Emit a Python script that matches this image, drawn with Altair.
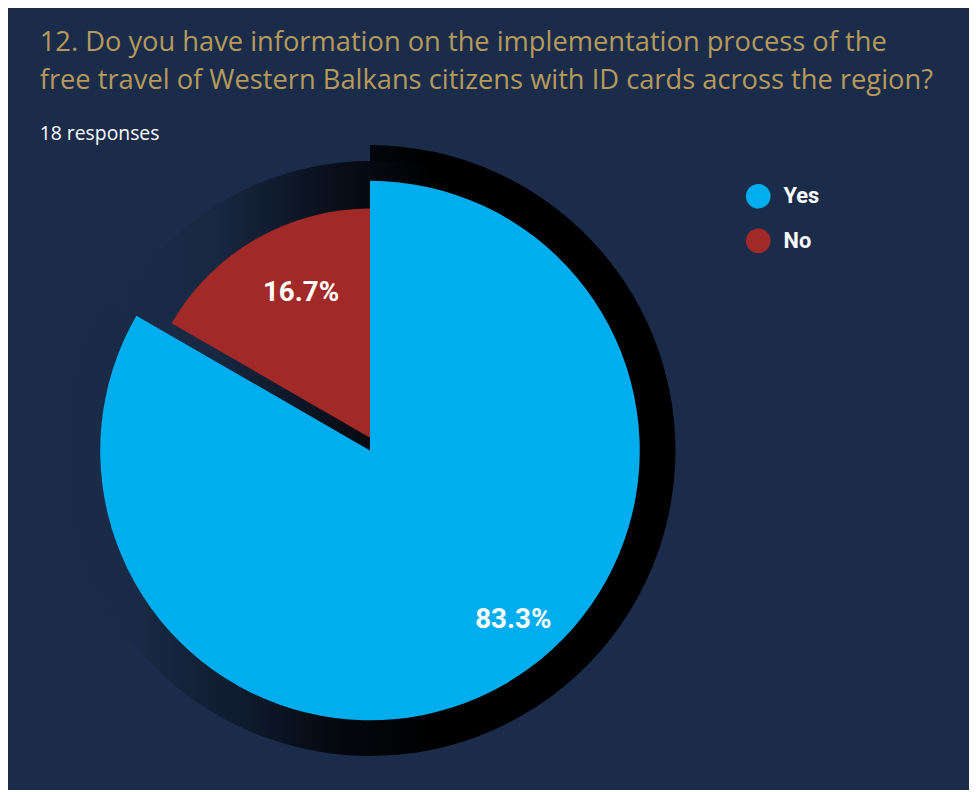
import math
import altair as alt
import pandas as pd

# ---- data -------------------------------------------------------------
categories = ["Yes", "No"]
responses = [15, 3]            # 18 responses in total
slice_colors = ["#00aeef", "#a12a28"]
title_lines = [
    "12. Do you have information on the implementation process of the",
    "free travel of Western Balkans citizens with ID cards across the region?",
]
subtitle_text = "18 responses"

total = sum(responses)
starts, acc = [], 0
for v in responses:
    starts.append(acc)
    acc += v
df = pd.DataFrame({
    "category": categories,
    "count": responses,
    "start": starts,
    "end": [s + v for s, v in zip(starts, responses)],
})
df["mid"] = (df["start"] + df["end"]) / 2
df["label"] = [f"{v / total * 100:.1f}%" for v in responses]

# ---- styles -----------------------------------------------------------
BG = "#1a2c49"
BOLD_FONT = "Roboto"
TEXT_FONT = "Open Sans"

theta_scale = alt.Scale(domain=[0, total], range=[0, 2 * math.pi])
color_scale = alt.Scale(domain=categories, range=slice_colors)

grad_yes = alt.Gradient(
    gradient="linear", x1=0, x2=1, y1=0.5, y2=0.5,
    stops=[
        alt.GradientStop(color=BG, offset=0),
        alt.GradientStop(color="#182a45", offset=0.12),
        alt.GradientStop(color="#0e1a2d", offset=0.3),
        alt.GradientStop(color="#04080e", offset=0.45),
        alt.GradientStop(color="#000000", offset=0.6),
        alt.GradientStop(color="#000000", offset=1),
    ],
)
grad_no = alt.Gradient(
    gradient="linear", x1=0, x2=1, y1=0.5, y2=0.5,
    stops=[
        alt.GradientStop(color=BG, offset=0),
        alt.GradientStop(color="#172842", offset=0.3),
        alt.GradientStop(color="#070c16", offset=0.72),
        alt.GradientStop(color="#000000", offset=1),
    ],
)

base = alt.Chart(df)
is_yes = "datum.category == 'Yes'"
is_no = "datum.category == 'No'"

theta_enc = dict(
    theta=alt.Theta("start:Q", scale=theta_scale),
    theta2=alt.Theta2("end:Q"),
)

yes_shadow = base.transform_filter(is_yes).mark_arc(
    outerRadius=308, fill=grad_yes
).encode(**theta_enc)

no_shadow = base.transform_filter(is_no).mark_arc(
    outerRadius=292, fill=grad_no, theta2Offset=0.23
).encode(**theta_enc)

legend = alt.Legend(
    orient="none", legendX=741, legendY=24, title=None,
    symbolType="circle", symbolSize=615, symbolStrokeWidth=0,
    symbolOpacity=1, padding=0,
    labelFont=BOLD_FONT, labelFontSize=22, labelFontWeight="bold",
    labelColor="white", labelOffset=13, rowPadding=20,
)

yes_arc = base.transform_filter(is_yes).mark_arc(
    outerRadius=272, opacity=1
).encode(
    color=alt.Color("category:N", scale=color_scale, legend=legend),
    **theta_enc,
)

no_arc = base.transform_filter(is_no).mark_arc(
    outerRadius=231, yOffset=-13, opacity=1
).encode(
    color=alt.Color("category:N", scale=color_scale, legend=legend),
    **theta_enc,
)

label_style = dict(font=BOLD_FONT, fontSize=28, fontWeight="bold",
                   color="white", align="center", baseline="middle")

yes_label = base.transform_filter(is_yes).mark_text(
    radius=221, dx=34, dy=-20, **label_style
).encode(theta=alt.Theta("mid:Q", scale=theta_scale), text="label:N")

no_label = base.transform_filter(is_no).mark_text(
    radius=175, dx=18, dy=-7, **label_style
).encode(theta=alt.Theta("mid:Q", scale=theta_scale), text="label:N")

chart = alt.layer(
    yes_shadow, no_shadow, yes_arc, no_arc, yes_label, no_label
).properties(
    width=724,
    height=586,
    autosize=alt.AutoSizeParams(type="none"),
    padding={"left": 3, "top": 150, "right": 242, "bottom": 46},
    background=BG,
    title=alt.TitleParams(
        text=title_lines,
        subtitle=subtitle_text,
        anchor="start",
        orient="top",
        dx=29,
        dy=2,
        font=TEXT_FONT,
        fontSize=27.5,
        fontWeight=500,
        color="#b59a5c",
        lineHeight=37.5,
        subtitleFont=TEXT_FONT,
        subtitleFontSize=19.5,
        subtitleColor="white",
        subtitlePadding=31,
    ),
).configure_view(stroke=None)

chart.save("out.html", embed_options={"renderer": "svg", "actions": False})
